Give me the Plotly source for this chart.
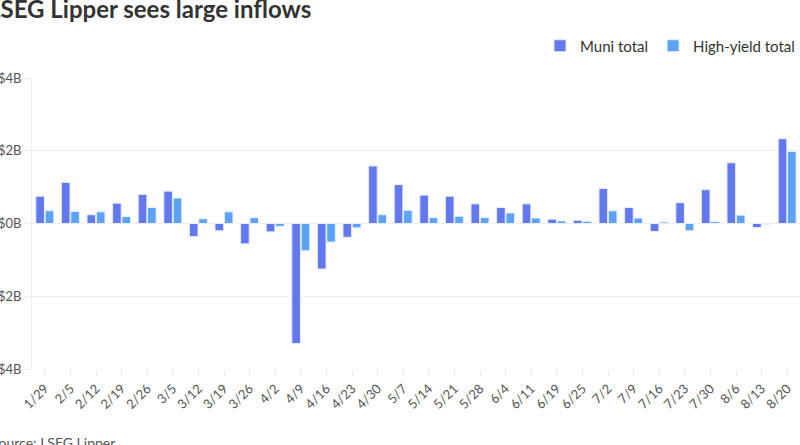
import plotly.graph_objects as go

weeks = ["1/29", "2/5", "2/12", "2/19", "2/26", "3/5", "3/12", "3/19", "3/26", "4/2",
         "4/9", "4/16", "4/23", "4/30", "5/7", "5/14", "5/21", "5/28", "6/4", "6/11",
         "6/19", "6/25", "7/2", "7/9", "7/16", "7/23", "7/30", "8/6", "8/13", "8/20"]
muni_total = [0.75, 1.13, 0.24, 0.56, 0.80, 0.89, -0.36, -0.20, -0.56, -0.23,
              -3.30, -1.25, -0.38, 1.58, 1.07, 0.78, 0.75, 0.54, 0.44, 0.54,
              0.12, 0.09, 0.96, 0.44, -0.22, 0.57, 0.93, 1.67, -0.11, 2.33]
high_yield_total = [0.35, 0.33, 0.32, 0.19, 0.44, 0.70, 0.13, 0.32, 0.16, -0.08,
                    -0.75, -0.51, -0.12, 0.24, 0.36, 0.16, 0.20, 0.16, 0.29, 0.15,
                    0.07, 0.06, 0.35, 0.15, 0.04, -0.20, 0.05, 0.23, -0.02, 1.98]
y_tick_vals = [4, 2, 0, -2, -4]
y_tick_text = ["$4B", "$2B", "$0B", "-$2B", "-$4B"]

FONT = "Lato"
fig = go.Figure()
fig.add_trace(go.Bar(name="Muni total", x=weeks, y=muni_total,
                     marker=dict(color="#6178EE", line=dict(color="#E8ECFD", width=1))))
fig.add_trace(go.Bar(name="High-yield total", x=weeks, y=high_yield_total,
                     marker=dict(color="#5DA3F5", line=dict(color="#E6F0FD", width=1))))

fig.update_layout(
    width=800, height=445,
    margin=dict(l=32, r=0, t=78, b=76),
    paper_bgcolor="white", plot_bgcolor="white",
    font=dict(family=FONT, size=13, color="#555555"),
    barmode="group", bargap=0.27, bargroupgap=0.08,
    showlegend=True,
    legend=dict(orientation="h", x=1.0, xanchor="right", y=1.11, yanchor="middle",
                font=dict(family=FONT, size=15, color="#333333"),
                bgcolor="rgba(0,0,0,0)", itemwidth=30, traceorder="normal"),
    annotations=[
        dict(text="<b>LSEG Lipper sees large inflows</b>", xref="paper", yref="paper",
             x=-0.0605, y=(369 - 9) / 291, xanchor="left", yanchor="middle", showarrow=False,
             font=dict(family=FONT, size=24, color="#333333")),
        dict(text="Source: LSEG Lipper", xref="paper", yref="paper",
             x=-0.0566, y=-(442 - 369) / 291, xanchor="left", yanchor="middle", showarrow=False,
             font=dict(family=FONT, size=14, color="#555555")),
    ],
)
fig.update_xaxes(
    type="category", tickangle=-45, automargin=False,
    showgrid=False, showline=False, zeroline=False,
    ticks="outside", ticklen=6, tickcolor="#e6e6e6",
    tickfont=dict(family=FONT, size=13, color="#555555"),
)
fig.update_yaxes(
    range=[-4, 4], tickvals=y_tick_vals, ticktext=y_tick_text, automargin=False,
    showgrid=True, gridcolor="#eeeeee", gridwidth=1,
    zeroline=True, zerolinecolor="#eeeeee", zerolinewidth=1,
    showline=True, linecolor="#eeeeee", linewidth=1,
    ticks="outside", ticklen=7, tickcolor="#eeeeee",
    tickfont=dict(family=FONT, size=13, color="#555555"),
)
fig.write_html("out.html", config={"displayModeBar": False},
               post_script="document.body.style.margin='0';")
